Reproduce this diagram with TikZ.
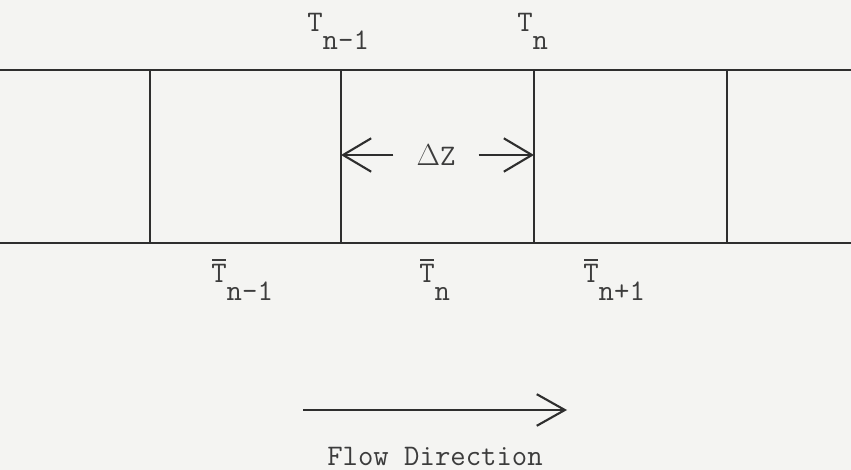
\documentclass[tikz,border=0pt]{standalone}
\usepackage{fontspec}
\usepackage{xcolor}
\usepackage{tikz}
\usetikzlibrary{arrows.meta,positioning,calc}
\definecolor{inkline}{HTML}{2E2E2E}
\definecolor{inktext}{HTML}{3C3C3C}
\definecolor{paper}{HTML}{F4F4F2}
\newcommand{\lowsub}[1]{\raisebox{-10pt}{#1}}
\newcommand{\tbar}{\rlap{\hspace{0.6pt}\raisebox{12.5pt}{\rule{7.6pt}{1.1pt}}}T}
\tikzset{
  pipe/.style={line width=1.2pt, color=inkline},
  wall/.style={line width=1.2pt, color=inkline},
  label/.style={
    font=\fontsize{17}{19}\selectfont\ttfamily, text=inktext,
    inner sep=0pt, anchor=base west
  },
  dim/.style={-{Straight Barb[length=16pt,width=19pt,line width=1.2pt]},
    line width=1.2pt, color=inkline},
  flowarrow/.style={-{Straight Barb[length=16pt,width=18pt,line width=1.2pt]},
    line width=1.2pt, color=inkline},
}

\begin{document}
\begin{tikzpicture}[x=0.2mm, y=-0.2mm]

  % Frame
  \fill[paper] (0,0) rectangle (851,470);
  \useasboundingbox (0,0) rectangle (851,470);

  % Channel walls
  \coordinate (pipeTL) at (0,70);
  \coordinate (pipeTR) at (851,70);
  \coordinate (pipeBL) at (0,243);
  \coordinate (pipeBR) at (851,243);
  \draw[pipe] (pipeTL) -- (pipeTR);
  \draw[pipe] (pipeBL) -- (pipeBR);

  % Cell boundaries
  \foreach \x [count=\i] in {150,341,534,727} {
    \coordinate (top\i) at (\x,70);
    \coordinate (bot\i) at (\x,243);
    \draw[wall] (top\i) -- (bot\i);
  }

  % Node temperatures
  \node[label] (tprev) at (307,32) {T\lowsub{n-1}};
  \node[label] (tcur)  at (517,32) {T\lowsub{n}};

  % Cell mean temperatures
  \node[label] (tbprev) at (211,283) {\tbar\lowsub{n-1}};
  \node[label] (tbcur)  at (419,283) {\tbar\lowsub{n}};
  \node[label] (tbnext) at (583,283) {\tbar\lowsub{n+1}};

  % Cell length
  \node[label, anchor=center, inner xsep=13pt] (dz) at (436,155) {$\Delta$Z};
  \coordinate (dzL) at (top2 |- dz.west);
  \coordinate (dzR) at (top3 |- dz.east);
  \draw[dim] (dz.west) -- (dzL);
  \draw[dim] (dz.east) -- (dzR);

  % Flow direction
  \coordinate (flowA) at (303,410);
  \coordinate (flowB) at (567,410);
  \draw[flowarrow] (flowA) -- (flowB);
  \node[label, anchor=base] (flow) at (435,465) {Flow Direction};

\end{tikzpicture}
\end{document}
